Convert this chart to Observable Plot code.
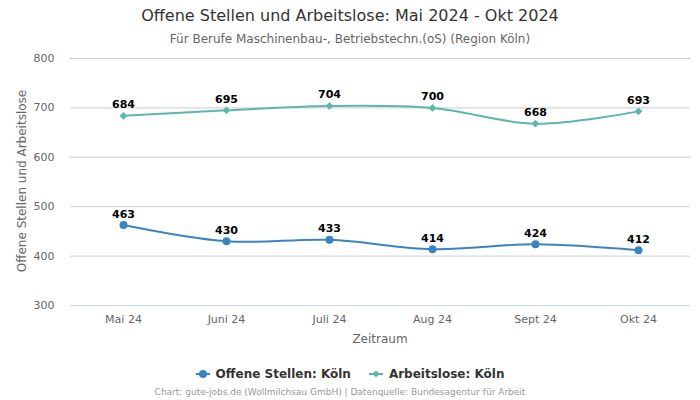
<!DOCTYPE html>
<html>
<head>
<meta charset="utf-8">
<script src="https://cdn.jsdelivr.net/npm/d3@7"></script>
<script src="https://cdn.jsdelivr.net/npm/@observablehq/plot@0.6"></script>
<style>
  body { margin: 0; width: 700px; height: 400px; background: #fff; font-family: "DejaVu Sans", sans-serif; position: relative; overflow: hidden; }
  #title { position: absolute; top: 6px; left: 0; width: 700px; text-align: center; font-size: 16px; color: #333; }
  #subtitle { position: absolute; top: 32px; left: 0; width: 700px; text-align: center; font-size: 12px; color: #666; }
  #chart { position: absolute; top: 48px; left: 0; }
  #xlabel { position: absolute; top: 332px; left: 70px; width: 620px; text-align: center; font-size: 12px; color: #666; }
  #ylabel { position: absolute; top: 181px; left: 22px; width: 0; height: 0; }
  #ylabel div { position: absolute; left: 0; top: 0; transform: translate(-50%, -50%) rotate(-90deg); white-space: nowrap; font-size: 12px; color: #666; }
  #legend { position: absolute; top: 367px; left: 0; width: 700px; text-align: center; font-size: 12px; font-weight: bold; color: #333; }
  #legend span.item { display: inline-block; margin: 0 9px; }
  #legend svg { vertical-align: middle; margin-right: 6px; position: relative; top: -1px; }
  #caption { position: absolute; top: 387px; left: -10px; width: 700px; text-align: center; font-size: 9px; color: #999; }
</style>
</head>
<body>
<div id="title">Offene Stellen und Arbeitslose: Mai 2024 - Okt 2024</div>
<div id="subtitle">Für Berufe Maschinenbau-, Betriebstechn.(oS) (Region Köln)</div>
<div id="chart"></div>
<div id="xlabel">Zeitraum</div>
<div id="ylabel"><div>Offene Stellen und Arbeitslose</div></div>
<div id="legend"></div>
<div id="caption">Chart: gute-jobs.de (Wollmilchsau GmbH) | Datenquelle: Bundesagentur für Arbeit</div>
<script>
const months = ["Mai 24", "Juni 24", "Juli 24", "Aug 24", "Sept 24", "Okt 24"];
const offeneStellen = [463, 430, 433, 414, 424, 412];
const arbeitslose = [684, 695, 704, 700, 668, 693];
const seriesNames = ["Offene Stellen: Köln", "Arbeitslose: Köln"];
const seriesColors = ["#3a84c1", "#5cb6ae"];
const yTicks = [300, 400, 500, 600, 700, 800];

const dataA = months.map((m, i) => ({month: m, value: offeneStellen[i], series: seriesNames[0]}));
const dataB = months.map((m, i) => ({month: m, value: arbeitslose[i], series: seriesNames[1]}));

const plot = Plot.plot({
  width: 700,
  height: 302,
  marginTop: 10,
  marginBottom: 45,
  marginLeft: 70,
  marginRight: 10,
  style: {fontFamily: "DejaVu Sans, sans-serif", fontSize: "11px", color: "#666", background: "transparent"},
  x: {type: "point", domain: months, padding: 0.5, label: null},
  y: {domain: [300, 800], ticks: yTicks, label: null},
  marks: [
    Plot.gridY(yTicks, {stroke: "#ccc", strokeOpacity: 1}),
    Plot.ruleY([300], {stroke: "#ccd6eb"}),
    Plot.axisY({ticks: yTicks, tickSize: 0, tickPadding: 16, label: null, fill: "#666", fontSize: 11}),
    Plot.axisX({tickSize: 0, tickPadding: 10, label: null, fill: "#666", fontSize: 11}),
    Plot.line(dataB, {x: "month", y: "value", stroke: seriesColors[1], strokeWidth: 2, curve: "catmull-rom"}),
    Plot.line(dataA, {x: "month", y: "value", stroke: seriesColors[0], strokeWidth: 2, curve: "catmull-rom"}),
    Plot.dot(dataB, {x: "month", y: "value", fill: seriesColors[1], symbol: "diamond2", r: 3.5, stroke: null}),
    Plot.dot(dataA, {x: "month", y: "value", fill: seriesColors[0], r: 4, stroke: null}),
    Plot.text(dataB, {x: "month", y: "value", text: d => String(d.value), dy: -11, fill: "#000", fontWeight: "bold", fontSize: 11}),
    Plot.text(dataA, {x: "month", y: "value", text: d => String(d.value), dy: -11, fill: "#000", fontWeight: "bold", fontSize: 11})
  ]
});
document.getElementById("chart").appendChild(plot);

const legend = document.getElementById("legend");
seriesNames.forEach((name, i) => {
  const span = document.createElement("span");
  span.className = "item";
  const sym = i === 0
    ? `<circle cx="7" cy="6" r="4" fill="${seriesColors[0]}"/>`
    : `<path d="M7 2.5 L10.5 6 L7 9.5 L3.5 6 Z" fill="${seriesColors[1]}"/>`;
  span.innerHTML = `<svg width="14" height="12"><line x1="0" y1="6" x2="14" y2="6" stroke="${seriesColors[i]}" stroke-width="2"/>${sym}</svg>${name}`;
  legend.appendChild(span);
});
</script>
</body>
</html>
